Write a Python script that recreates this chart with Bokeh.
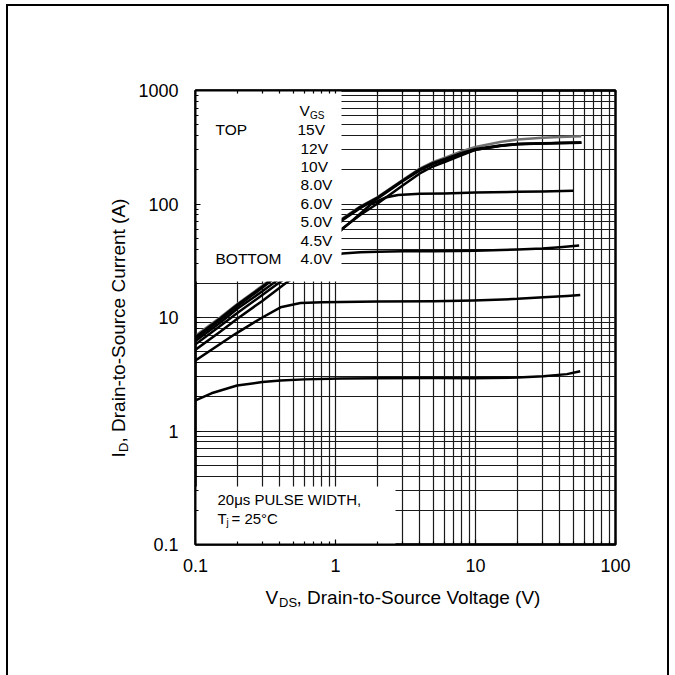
import math
from bokeh.plotting import figure
from bokeh.models import FixedTicker, CustomJSTickFormatter, Label, LogAxis, Range1d
from bokeh.embed import file_html
from bokeh.resources import INLINE

# ---------------- data ----------------
vds_hi = [0.1, 0.15, 0.2, 0.3, 0.5, 0.8, 1.12, 1.5, 2, 3, 4, 5, 6.2, 8, 10, 15, 20, 30, 40, 57]
id_15v = [6.9, 10.0, 13.2, 19.0, 31, 52, 74.5, 95, 115, 162, 205, 235, 258, 292, 318, 352, 370, 384, 390, 396]
id_12v = [6.7, 9.8, 13.0, 18.7, 30.5, 51, 73.5, 94, 114, 160, 202, 230, 252, 282, 305, 328, 338, 343, 345, 348]
id_10v = [6.5, 9.5, 12.6, 18.3, 30, 50, 72, 92, 112, 158, 198, 226, 248, 278, 300, 325, 336, 342, 344, 347]
id_8v = [6.2, 9.0, 12.0, 17.0, 27, 43, 60.8, 80, 101, 145, 186, 215, 238, 270, 300, 326, 337, 342, 344, 346]

vds_6v = [0.1, 0.15, 0.2, 0.3, 0.5, 0.8, 1.12, 1.5, 1.8, 2.27, 2.8, 4, 6, 10, 20, 30, 50]
id_6v = [5.8, 8.4, 11.0, 15.8, 25, 40, 60, 82, 100, 114, 120, 123, 124, 126, 128, 129, 131]

vds_5v = [0.1, 0.15, 0.2, 0.3, 0.44, 0.6, 0.8, 1.12, 1.5, 2, 3, 5, 7.4, 10, 20, 30, 40, 55]
id_5v = [5.2, 7.5, 9.8, 14, 20, 26, 32, 36.6, 37.5, 38, 38.3, 38.4, 38.5, 38.8, 39.8, 40.5, 41.5, 43]

vds_45v = [0.1, 0.193, 0.3, 0.405, 0.562, 0.8, 1.1, 2, 5, 9.7, 20, 30.6, 45, 56]
id_45v = [4.18, 7.18, 10.0, 12.3, 13.4, 13.6, 13.7, 13.8, 13.9, 14.1, 14.6, 15.1, 15.5, 15.8]

vds_4v = [0.1, 0.13, 0.198, 0.3, 0.405, 0.6, 1.1, 2, 5, 9.7, 20, 30.6, 45, 56]
id_4v = [1.86, 2.15, 2.52, 2.7, 2.79, 2.85, 2.9, 2.92, 2.93, 2.92, 2.96, 3.04, 3.17, 3.36]

x_major = [0.1, 1, 10, 100]
y_major = [0.1, 1, 10, 100, 1000]
x_minor = [m * 10.0 ** e for e in (-1, 0, 1) for m in range(2, 10)]
y_minor = [m * 10.0 ** e for e in (-1, 0, 1, 2) for m in range(2, 10)]

legend_vgs = ["15V", "12V", "10V", "8.0V", "6.0V", "5.0V", "4.5V", "4.0V"]

# ---------------- layout geometry (page pixels) ----------------
OX, OY = 8, 6              # where the figure element starts on the page
FL, FR, FT, FB = 195, 615, 90, 544   # plot frame on the page
W, H = 659, 669

def xd(px):
    return 10 ** ((px - FL) / ((FR - FL) / 3.0) - 1)

def yd(py):
    return 10 ** ((FB - py) / ((FB - FT) / 4.0) - 1)

FONT = "Liberation Sans"

p = figure(width=W, height=H, x_axis_type="log", y_axis_type="log",
           x_range=Range1d(0.1, 100), y_range=Range1d(0.1, 1000),
           output_backend="svg", toolbar_location=None,
           min_border_left=FL - OX, min_border_right=W - (FR - OX),
           min_border_top=FT - OY, min_border_bottom=H - (FB - OY))
p.styles = {"outline": "2px solid black", "margin-left": f"{OX}px", "margin-top": f"{OY}px"}
p.background_fill_color = "white"
p.border_fill_color = "white"
p.outline_line_color = "black"
p.outline_line_width = 2.5

fmt = CustomJSTickFormatter(code="return String(Number(tick.toPrecision(3)));")

for g, maj, mnr in ((p.xgrid[0], x_major, x_minor), (p.ygrid[0], y_major, y_minor)):
    g.ticker = FixedTicker(ticks=maj, minor_ticks=mnr)
    g.grid_line_color = "#1a1a1a"
    g.grid_line_width = 1.2
    g.minor_grid_line_color = "#1a1a1a"
    g.minor_grid_line_width = 1.2

def style_axis(ax, standoff):
    ax.formatter = fmt
    ax.axis_line_color = "black"
    ax.axis_line_width = 2
    ax.major_tick_in = 5
    ax.major_tick_out = 0
    ax.minor_tick_in = 3
    ax.minor_tick_out = 0
    ax.major_tick_line_color = "black"
    ax.minor_tick_line_color = "black"
    ax.major_tick_line_width = 1.2
    ax.minor_tick_line_width = 1.2
    ax.major_label_text_font = FONT
    ax.major_label_text_color = "black"
    ax.major_label_text_font_size = "18px"
    ax.major_label_standoff = standoff

p.xaxis[0].ticker = FixedTicker(ticks=x_major, minor_ticks=x_minor)
p.yaxis[0].ticker = FixedTicker(ticks=y_major, minor_ticks=y_minor)
style_axis(p.xaxis[0], 14)
style_axis(p.yaxis[0], 17)

# top axis: inner tick marks only (no major ticks -> no labels)
top_ax = LogAxis(ticker=FixedTicker(ticks=[], minor_ticks=x_major + x_minor))
top_ax.axis_line_color = "black"
top_ax.axis_line_width = 2
top_ax.minor_tick_in = 3
top_ax.minor_tick_out = 0
top_ax.minor_tick_line_color = "black"
top_ax.minor_tick_line_width = 1.2
p.add_layout(top_ax, "above")

# ---------------- curves ----------------
p.line(vds_hi, id_15v, line_color="#707070", line_width=2.5, line_join="round")
for ys in (id_12v, id_10v, id_8v):
    p.line(vds_hi, ys, line_color="black", line_width=2.5, line_join="round")
p.line(vds_6v, id_6v, line_color="black", line_width=2.5, line_join="round")
p.line(vds_5v, id_5v, line_color="black", line_width=2.5, line_join="round")
p.line(vds_45v, id_45v, line_color="black", line_width=2.5, line_join="round")
p.line(vds_4v, id_4v, line_color="black", line_width=2.5, line_join="round")

# ---------------- white text boxes ----------------
p.quad(left=[0.1], right=[xd(341)], bottom=[yd(281)], top=[1000],
       fill_color="white", line_color=None)
p.quad(left=[0.1], right=[xd(395)], bottom=[0.1], top=[yd(486)],
       fill_color="white", line_color=None)

def lab(px, py, text, size=15.5, align="left", angle=0.0, place=None):
    l = Label(x=xd(px), y=yd(py), text=text, text_font=FONT,
              text_font_size=f"{size}px", text_color="black",
              text_align=align, text_baseline="middle", angle=angle)
    if place is None:
        p.add_layout(l)
    else:
        p.add_layout(l, place)

# legend block
lab(299, 110, "V")
lab(309.5, 114.5, "GS", size=10)
lab(215, 129, "TOP")
lab(215, 258, "BOTTOM")
legend_y = [129, 147.5, 166, 184, 202.5, 221, 239.5, 258]
for t, yy in zip(legend_vgs, legend_y):
    lab(297 if t == "15V" else 300, yy, t)

# pulse annotation
lab(217, 499, "20\u03bcs PULSE WIDTH,", size=15)
lab(217, 518, "T", size=15)
lab(226, 522, "j", size=10)
lab(231, 518, "= 25\u00b0C", size=15)

# x axis title (placed in the bottom panel so it is not clipped to the frame)
lab(265, 597, "V", size=19, place="below")
lab(278.5, 602, "DS", size=13, place="below")
lab(296, 597, ", Drain-to-Source Voltage (V)", size=19, place="below")

# y axis title (rotated, in the left panel)
lab(118, 457, "I", size=19, angle=math.pi / 2, place="left")
lab(123, 451.5, "D", size=13, angle=math.pi / 2, place="left")
lab(118, 442, ", Drain-to-Source Current (A)", size=19, angle=math.pi / 2, place="left")

open("out.html", "w").write(file_html(p, INLINE))
